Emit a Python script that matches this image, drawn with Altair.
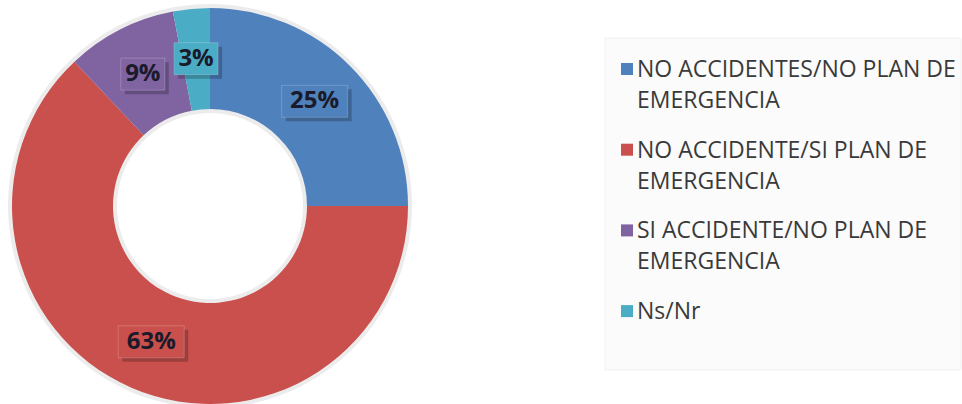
import altair as alt
import pandas as pd

# ---- data ----
categories = [
    "NO ACCIDENTES/NO PLAN DE EMERGENCIA",
    "NO ACCIDENTE/SI PLAN DE EMERGENCIA",
    "SI ACCIDENTE/NO PLAN DE EMERGENCIA",
    "Ns/Nr",
]
legend_labels = [
    "NO ACCIDENTES/NO PLAN DE\nEMERGENCIA",
    "NO ACCIDENTE/SI PLAN DE\nEMERGENCIA",
    "SI ACCIDENTE/NO PLAN DE\nEMERGENCIA",
    "Ns/Nr",
]
values = [25, 63, 9, 3]
value_labels = ["25%", "63%", "9%", "3%"]
colors = ["#4F81BD", "#C9504D", "#8064A2", "#4BACC6"]

# ---- layout ----
CX, CY = 210, 206
R_OUT, R_IN, R_LBL = 198, 97, 148
LEG_X0, LEG_Y0, LEG_DY = 621, 69, 80.7
FONT = "Open Sans"

df = pd.DataFrame({
    "cat": categories,
    "legend": legend_labels,
    "val": values,
    "lbl": value_labels,
    "idx": list(range(len(categories))),
})

color = alt.Color("cat:N", scale=alt.Scale(domain=categories, range=colors), legend=None)

base = alt.Chart(df)

halo = base.mark_arc(outerRadius=R_OUT + 4, innerRadius=R_IN - 4, color="#ececec").encode(
    theta=alt.Theta("val:Q", stack=True),
    order=alt.Order("idx:Q"),
    x=alt.value(CX), y=alt.value(CY),
)

arcs = base.mark_arc(outerRadius=R_OUT, innerRadius=R_IN).encode(
    theta=alt.Theta("val:Q", stack=True),
    order=alt.Order("idx:Q"),
    color=color,
    x=alt.value(CX), y=alt.value(CY),
)

pos = base.transform_window(
    cum="sum(val)", sort=[alt.SortField("idx")], frame=[None, 0]
).transform_joinaggregate(
    total="sum(val)"
).transform_calculate(
    mid="(datum.cum - datum.val/2) / datum.total * 2 * PI",
    lx=f"{CX} + {R_LBL} * sin(datum.mid)",
    ly=f"{CY} - {R_LBL} * cos(datum.mid)",
    hw="length(datum.lbl) * 11",
    bx1="datum.lx - datum.hw",
    bx2="datum.lx + datum.hw",
    by1="datum.ly - 16",
    by2="datum.ly + 16",
    sx1="datum.bx1 + 4",
    sx2="datum.bx2 + 4",
    sy1="datum.by1 + 4",
    sy2="datum.by2 + 4",
)

shadow = pos.mark_rect(color="#000000", opacity=0.22).encode(
    x=alt.X("sx1:Q", scale=None, axis=None), x2="sx2:Q",
    y=alt.Y("sy1:Q", scale=None, axis=None), y2="sy2:Q",
)
box = pos.mark_rect(stroke="#ffffff", strokeOpacity=0.2, strokeWidth=1).encode(
    x=alt.X("bx1:Q", scale=None, axis=None), x2="bx2:Q",
    y=alt.Y("by1:Q", scale=None, axis=None), y2="by2:Q",
    color=color,
)
value_text = pos.mark_text(
    font=FONT, fontWeight="bold", fontSize=24, color="#1a1a2a",
    align="center", baseline="middle",
).encode(
    x=alt.X("lx:Q", scale=None, axis=None),
    y=alt.Y("ly:Q", scale=None, axis=None),
    text="lbl:N",
)

legend_bg = alt.Chart(alt.Data(values=[{}])).mark_rect(
    fill="#fbfbfb", stroke="#f1f1f1", strokeWidth=1
).encode(
    x=alt.value(605), x2=alt.value(961), y=alt.value(38), y2=alt.value(370)
)

leg = base.transform_calculate(
    ry=f"{LEG_Y0} + datum.idx * {LEG_DY}",
    sy1="datum.ry - 6",
    sy2="datum.ry + 6",
    ty="datum.ry + 8",
)
leg_sq = leg.mark_rect().encode(
    x=alt.value(LEG_X0), x2=alt.value(LEG_X0 + 12),
    y=alt.Y("sy1:Q", scale=None, axis=None), y2="sy2:Q",
    color=color,
)
leg_txt = leg.mark_text(
    font=FONT, fontSize=23, color="#3a3a3a", align="left",
    baseline="alphabetic", lineBreak="\n", lineHeight=31,
).encode(
    x=alt.value(LEG_X0 + 16),
    y=alt.Y("ty:Q", scale=None, axis=None),
    text="legend:N",
)

chart = alt.layer(
    legend_bg, halo, arcs, shadow, box, value_text, leg_sq, leg_txt
).properties(
    width=962, height=404, padding=0,
    autosize=alt.AutoSizeParams(type="none"),
    background="#ffffff",
).configure_view(stroke=None)

chart.save("out.html", embed_options={"renderer": "svg", "actions": False})
